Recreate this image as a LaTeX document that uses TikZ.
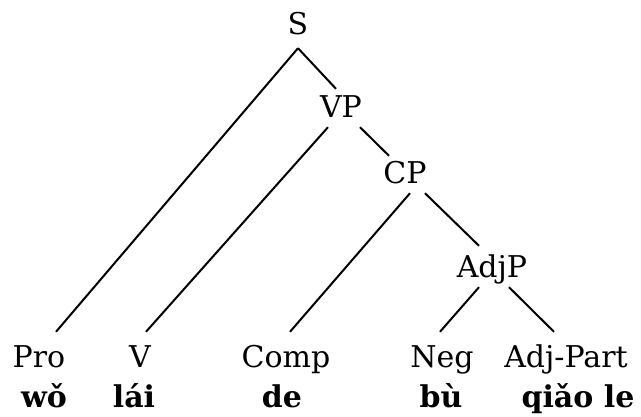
\documentclass[tikz,border=0pt]{standalone}
\usepackage{fontspec}
\setmainfont{DejaVu Serif}
\usepackage{tikz}
\usetikzlibrary{positioning}
\tikzset{
  cat/.style={inner sep=0pt,anchor=base,text height=22pt,text depth=0pt,
              font=\fontsize{30}{36}\selectfont},
  word/.style={cat,font=\fontsize{30}{36}\selectfont\bfseries},
  branch/.style={line width=2pt,line cap=butt},
}

\begin{document}
\begin{tikzpicture}[x=1pt,y=-1pt]
  \useasboundingbox (0,0) rectangle (641,417);
  % phrase nodes
  \node[cat] (s)    at (298,35)  {S};
  \node[cat] (vp)   at (341,118) {VP};
  \node[cat] (cp)   at (405,184) {CP};
  \node[cat] (adjp) at (492,278) {AdjP};
  % categories of the leaves
  \node[cat] (pro)     at (39,367)  {Pro};
  \node[cat] (v)       at (140,367) {V};
  \node[cat] (comp)    at (286,367) {Comp};
  \node[cat] (neg)     at (442,367) {Neg};
  \node[cat] (adjpart) at (566,367) {Adj-Part};
  % the words
  \node[word] (wo)     at (44,407)  {wǒ};
  \node[word] (lai)    at (134,407) {lái};
  \node[word] (de)     at (282,407) {de};
  \node[word] (bu)     at (441,407) {bù};
  \node[word] (qiaole) at (578,407) {qiǎo le};
  % branches
  \draw[branch] ([yshift=-13pt]s.south) -- ([xshift=17pt,yshift=13pt]pro.north);
  \draw[branch] ([yshift=-13pt]s.south) -- ([xshift=-5pt,yshift=7pt]vp.north);
  \draw[branch] ([xshift=-13pt,yshift=-9pt]vp.south) -- ([xshift=6pt,yshift=13pt]v.north);
  \draw[branch] ([xshift=19pt,yshift=-9pt]vp.south) -- ([xshift=-16pt,yshift=6pt]cp.north);
  \draw[branch] ([xshift=5pt,yshift=-9pt]cp.south) -- ([xshift=4pt,yshift=13pt]comp.north);
  \draw[branch] ([xshift=20pt,yshift=-9pt]cp.south) -- ([xshift=-13pt,yshift=10pt]adjp.north);
  \draw[branch] ([xshift=-13pt,yshift=-9pt]adjp.south) -- ([xshift=-2pt,yshift=13pt]neg.north);
  \draw[branch] ([xshift=17pt,yshift=-9pt]adjp.south) -- ([xshift=-12pt,yshift=13pt]adjpart.north);
\end{tikzpicture}
\end{document}
